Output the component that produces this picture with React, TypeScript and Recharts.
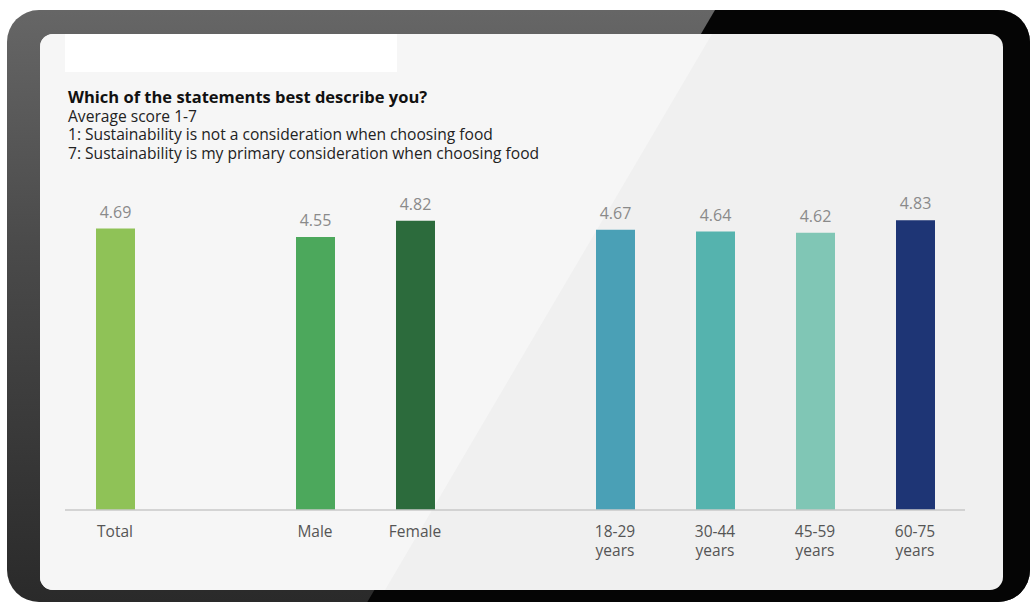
import React from 'react';
import { BarChart, Bar, XAxis, YAxis, Cell, LabelList } from 'recharts';

// empty strings are spacer slots between the groups
const categories = ['Total', '', 'Male', 'Female', '', '18-29 years', '30-44 years', '45-59 years', '60-75 years'];
const scores = [4.69, null, 4.55, 4.82, null, 4.67, 4.64, 4.62, 4.83];
const barColors = ['#8fc257', 'transparent', '#4ca85c', '#2c6b3c', 'transparent', '#4aa0b6', '#55b3ae', '#80c6b5', '#1e3575'];

const subtitleLines = [
  'Average score 1-7',
  '1: Sustainability is not a consideration when choosing food',
  '7: Sustainability is my primary consideration when choosing food',
];

const data = categories.map((name, i) => ({ name, score: scores[i] }));

const CategoryTick = (props: any) => {
  const { x, y, payload } = props;
  const label: string = payload?.value || '';
  if (!label) return null;
  const lines = label.includes('years') ? label.split(' ') : [label];
  return (
    <text x={x} y={y} textAnchor="middle" fill="#555" fontSize={15.5}>
      {lines.map((line, i) => (
        <tspan key={i} x={x} dy={i === 0 ? 27 : 19}>
          {line}
        </tspan>
      ))}
    </text>
  );
};

const App: React.FC = () => {
  return (
    <div
      style={{
        position: 'absolute',
        left: 0,
        top: 0,
        width: 1035,
        height: 606,
        overflow: 'hidden',
        background: '#ffffff',
        fontFamily: '"Open Sans", sans-serif',
      }}
    >
      {/* tablet bezel */}
      <div
        style={{
          position: 'absolute',
          left: 7,
          top: 10,
          width: 1023,
          height: 592,
          borderRadius: 32,
          overflow: 'hidden',
          background: 'linear-gradient(to bottom, #666 0%, #4a4a4a 40%, #2a2a2a 100%)',
        }}
      >
        <div
          style={{
            position: 'absolute',
            inset: 0,
            background: '#050505',
            clipPath: 'polygon(708px 0, 1023px 0, 1023px 596px, 358px 596px)',
          }}
        />
      </div>
      {/* screen */}
      <div
        style={{
          position: 'absolute',
          left: 40,
          top: 34,
          width: 963,
          height: 556,
          borderRadius: 13,
          overflow: 'hidden',
          background: '#f0f0f0',
        }}
      >
        <div
          style={{
            position: 'absolute',
            inset: 0,
            background: '#f6f6f6',
            clipPath: 'polygon(0 0, 672px 0, 345px 556px, 0 556px)',
          }}
        />
      </div>
      <div style={{ position: 'absolute', left: 65, top: 34, width: 332, height: 38, background: '#ffffff' }} />
      <div
        style={{
          position: 'absolute',
          left: 68,
          top: 88,
          fontSize: 15.6,
          lineHeight: '18.5px',
          color: '#222',
        }}
      >
        <div style={{ fontWeight: 700, fontSize: 16.5, color: '#111' }}>Which of the statements best describe you?</div>
        {subtitleLines.map((line) => (
          <div key={line}>{line}</div>
        ))}
      </div>
      <div style={{ position: 'absolute', left: 0, top: 0 }}>
        <BarChart
          width={1035}
          height={606}
          data={data}
          margin={{ top: 210, right: 70, bottom: 66, left: 65 }}
          barSize={39}
        >
          <XAxis
            dataKey="name"
            height={30}
            axisLine={{ stroke: '#c8c8c8', strokeWidth: 1.5 }}
            tickLine={false}
            tickSize={0}
            tickMargin={0}
            interval={0}
            tick={<CategoryTick />}
          />
          <YAxis hide domain={[0, 5]} />
          <Bar dataKey="score" isAnimationActive={false}>
            {data.map((d, i) => (
              <Cell key={i} fill={barColors[i]} />
            ))}
            <LabelList
              dataKey="score"
              position="top"
              offset={11}
              fill="#8a8a8a"
              fontSize={16}
              formatter={(v: any) => (v == null ? '' : Number(v).toFixed(2))}
            />
          </Bar>
        </BarChart>
      </div>
    </div>
  );
};

export default App;
